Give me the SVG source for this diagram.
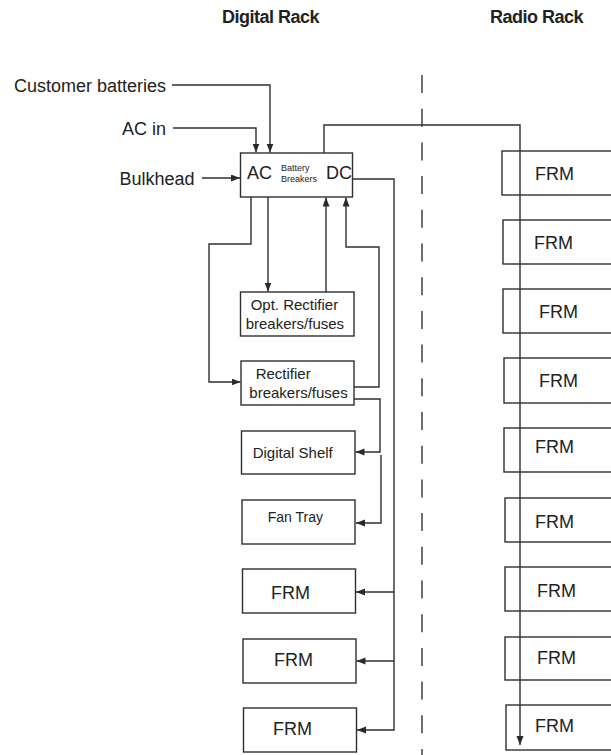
<svg xmlns="http://www.w3.org/2000/svg" width="611" height="755" viewBox="0 0 611 755">
<defs>
<marker id="arr" markerUnits="userSpaceOnUse" markerWidth="10" markerHeight="8" refX="9" refY="3.5" orient="auto">
<path d="M0,0 L9,3.5 L0,7 z" fill="#2a2a2a"/>
</marker>
<style>
.box{fill:#fff;stroke:#2f2f2f;stroke-width:1.4}
.ln{fill:none;stroke:#2f2f2f;stroke-width:1.4}
.t{font-family:"Liberation Sans",Arial,sans-serif;fill:#222}
.title{font-family:"Liberation Sans",Arial,sans-serif;font-weight:bold;font-size:18px;letter-spacing:-0.5px;fill:#222}
</style>
</defs>
<rect width="611" height="755" fill="#fff"/>

<text class="title" x="222" y="23">Digital Rack</text>
<text class="title" x="490" y="23">Radio Rack</text>

<line x1="422" y1="75" x2="422" y2="755" stroke="#333" stroke-width="1.4" stroke-dasharray="18 15.7"/>

<g id="labels">
<text class="t" x="166" y="92" font-size="18" text-anchor="end">Customer batteries</text>
<text class="t" x="166" y="134.5" font-size="18" text-anchor="end">AC in</text>
<text class="t" x="194.5" y="185" font-size="18" text-anchor="end">Bulkhead</text>
</g>

<g id="connectors">
<path class="ln" d="M172,85 H270 V152.5" marker-end="url(#arr)"/>
<path class="ln" d="M173,128 H256 V152.5" marker-end="url(#arr)"/>
<path class="ln" d="M202,178 H240" marker-end="url(#arr)"/>
<path class="ln" d="M324,153 V125 H520 V745" marker-end="url(#arr)"/>
<path class="ln" d="M353,179 H394 V730 H357" marker-end="url(#arr)"/>
<path class="ln" d="M394,592 H356" marker-end="url(#arr)"/>
<path class="ln" d="M394,661 H356.5" marker-end="url(#arr)"/>
<path class="ln" d="M251,197 V244 H209 V382 H240.5" marker-end="url(#arr)"/>
<path class="ln" d="M268,197 V291.5" marker-end="url(#arr)"/>
<path class="ln" d="M326,292 V197.5" marker-end="url(#arr)"/>
<path class="ln" d="M354,387 H379 V247 H346 V197.5" marker-end="url(#arr)"/>
<path class="ln" d="M354,399 H380 V452 H355.5" marker-end="url(#arr)"/>
<path class="ln" d="M381,455 V523 H356" marker-end="url(#arr)"/>
</g>

<g id="breakers">
<rect class="box" x="240.5" y="153" width="112" height="44"/>
<text class="t" x="247" y="178.5" font-size="18">AC</text>
<text class="t" x="281" y="171" font-size="9">Battery</text>
<text class="t" x="281" y="181.5" font-size="9">Breakers</text>
<text class="t" x="326" y="178.5" font-size="18">DC</text>
</g>

<g id="opt-rectifier">
<rect class="box" x="240.5" y="292" width="113.5" height="44"/>
<text class="t" x="250.7" y="310" font-size="15">Opt. Rectifier</text>
<text class="t" x="245.7" y="329.3" font-size="15">breakers/fuses</text>
</g>

<g id="rectifier">
<rect class="box" x="241" y="361" width="113" height="44"/>
<text class="t" x="255.7" y="379.3" font-size="15">Rectifier</text>
<text class="t" x="249.3" y="397.7" font-size="15">breakers/fuses</text>
</g>

<g id="digital-shelf">
<rect class="box" x="241.5" y="431" width="113.5" height="43"/>
<text class="t" x="252.7" y="457.7" font-size="15">Digital Shelf</text>
</g>

<g id="fan-tray">
<rect class="box" x="242" y="500" width="113" height="44"/>
<text class="t" x="267.7" y="522.3" font-size="14">Fan Tray</text>
</g>

<g id="d-frm1"><rect class="box" x="242.5" y="569" width="113" height="44"/><text class="t" x="271" y="599" font-size="18">FRM</text></g>
<g id="d-frm2"><rect class="box" x="243" y="639" width="113" height="44"/><text class="t" x="274" y="665.7" font-size="18">FRM</text></g>
<g id="d-frm3"><rect class="box" x="243.5" y="708" width="113" height="44"/><text class="t" x="273" y="735" font-size="18">FRM</text></g>

<g id="r-frm1"><rect class="box" x="502" y="151" width="120" height="44" fill-opacity="0"/><text class="t" x="535" y="180" font-size="18">FRM</text></g>
<g id="r-frm2"><rect class="box" x="503" y="220" width="120" height="44" fill-opacity="0"/><text class="t" x="534" y="249" font-size="18">FRM</text></g>
<g id="r-frm3"><rect class="box" x="503" y="289" width="120" height="44" fill-opacity="0"/><text class="t" x="539" y="318" font-size="18">FRM</text></g>
<g id="r-frm4"><rect class="box" x="504" y="358" width="120" height="45" fill-opacity="0"/><text class="t" x="539" y="387" font-size="18">FRM</text></g>
<g id="r-frm5"><rect class="box" x="504" y="428" width="120" height="44" fill-opacity="0"/><text class="t" x="535" y="453" font-size="18">FRM</text></g>
<g id="r-frm6"><rect class="box" x="505" y="498" width="120" height="44" fill-opacity="0"/><text class="t" x="535" y="528" font-size="18">FRM</text></g>
<g id="r-frm7"><rect class="box" x="505" y="567" width="120" height="44" fill-opacity="0"/><text class="t" x="537" y="597" font-size="18">FRM</text></g>
<g id="r-frm8"><rect class="box" x="505" y="637" width="120" height="43" fill-opacity="0"/><text class="t" x="537" y="664" font-size="18">FRM</text></g>
<g id="r-frm9"><rect class="box" x="506" y="705" width="120" height="45" fill-opacity="0"/><text class="t" x="535" y="732" font-size="18">FRM</text></g>
</svg>
